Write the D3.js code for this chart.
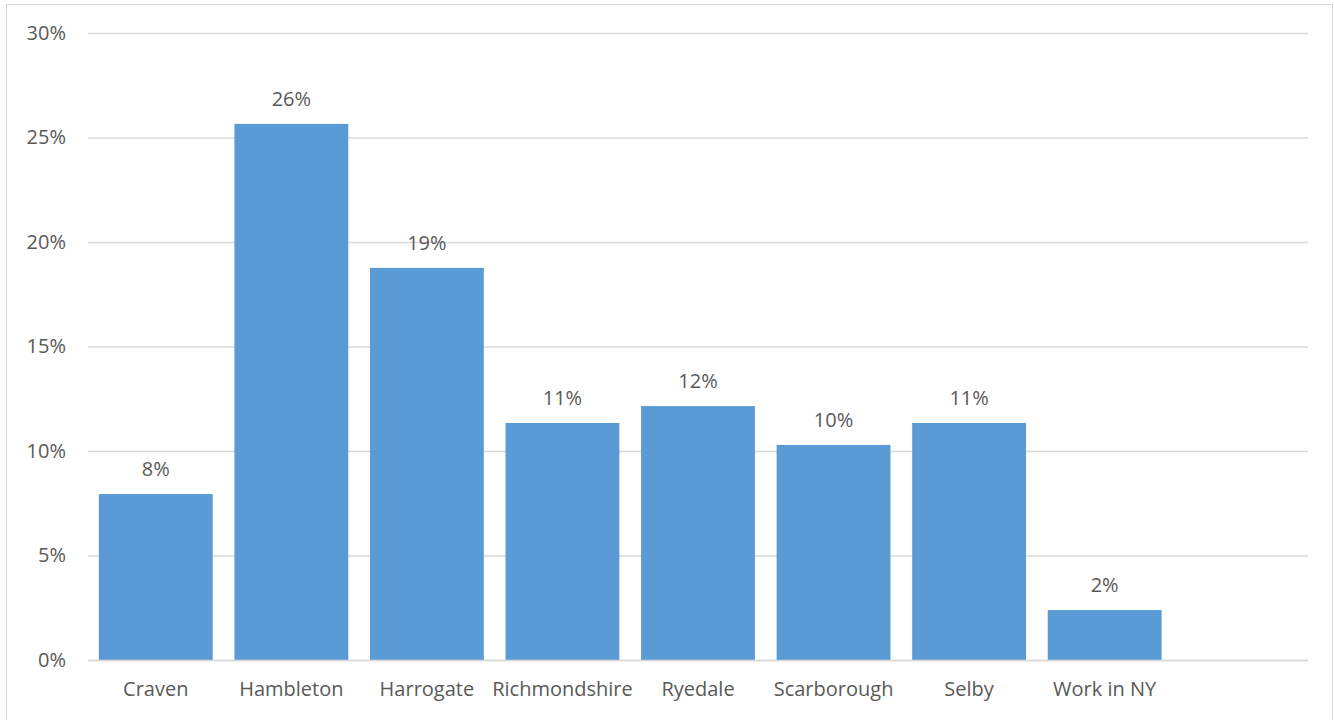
<!DOCTYPE html>
<html><head><meta charset="utf-8">
<script src="https://cdn.jsdelivr.net/npm/d3@7"></script>
<style>body{margin:0;background:#fff}svg{display:block}text{font-family:"Open Sans","Liberation Sans",sans-serif;fill:#595959}</style>
</head><body><svg id="c" width="1334" height="720"></svg>
<script>
const categories = ["Craven","Hambleton","Harrogate","Richmondshire","Ryedale","Scarborough","Selby","Work in NY",""];
const values = [7.94, 25.65, 18.76, 11.34, 12.15, 10.29, 11.34, 2.39, null];
const yTicks = [0,5,10,15,20,25,30];

const svg = d3.select("#c");
svg.append("rect").attr("x",6.5).attr("y",4.5).attr("width",1326).attr("height",720).attr("fill","none").attr("stroke","#d9d9d9");
const m = {l:88, r:1308, t:33, b:660};
const x = d3.scaleBand().domain(categories.map((d,i)=>i)).range([m.l,m.r]).paddingInner(0.16).paddingOuter(0.08);
const y = d3.scaleLinear().domain([0,30]).range([m.b,m.t]);

const yAxis = svg.append("g").attr("transform",`translate(${m.l},0)`)
  .call(d3.axisLeft(y).tickValues(yTicks).tickFormat(d=>d+"%").tickSize(-(m.r-m.l)).tickPadding(22));
yAxis.select(".domain").remove();
yAxis.selectAll("line").attr("stroke","#d9d9d9").attr("stroke-width",1.5);
yAxis.selectAll("text").attr("font-size",20).style("fill","#595959");

const data = values.map((v,i)=>({i,v,c:categories[i]})).filter(d=>d.v!==null);
svg.append("g").selectAll("rect").data(data).join("rect")
  .attr("x",d=>x(d.i)).attr("width",x.bandwidth())
  .attr("y",d=>y(d.v)).attr("height",d=>y(0)-y(d.v)).attr("fill","#5B9BD5");

svg.append("g").selectAll("text").data(data).join("text")
  .attr("x",d=>x(d.i)+x.bandwidth()/2).attr("y",d=>y(d.v)-18)
  .attr("text-anchor","middle").attr("font-size",20).text(d=>Math.round(d.v)+"%");

const xAxis = svg.append("g").attr("transform",`translate(0,${m.b})`)
  .call(d3.axisBottom(x).tickFormat(i=>categories[i]).tickSize(0).tickPadding(22));
xAxis.select(".domain").attr("stroke","#d9d9d9").attr("stroke-width",1.5);
xAxis.selectAll("text").attr("font-size",20).style("fill","#595959");
</script></body></html>
